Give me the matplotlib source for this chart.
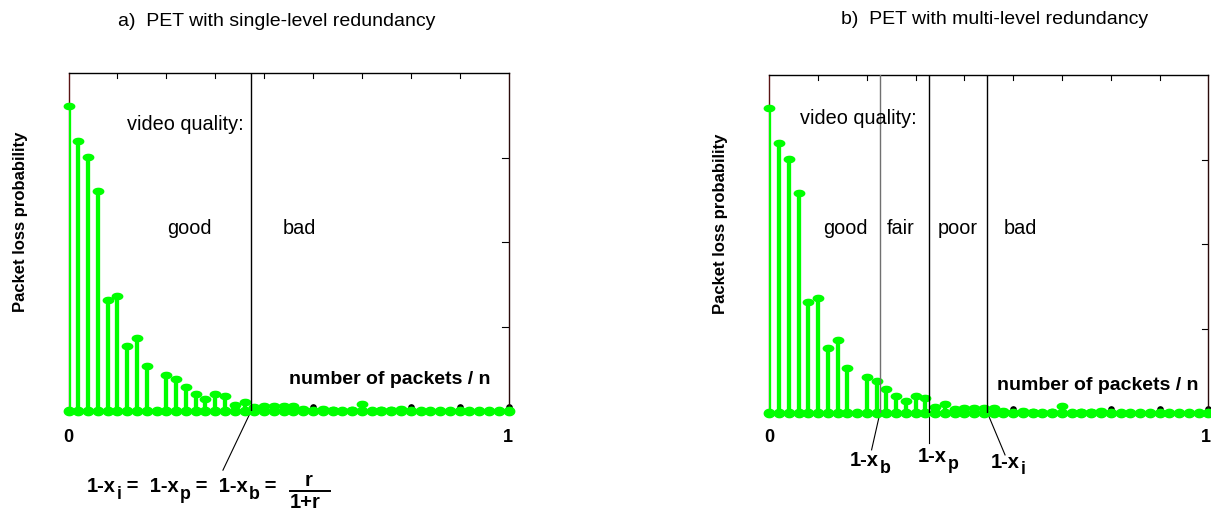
import numpy as np
import matplotlib
matplotlib.use('Agg')
import matplotlib.pyplot as plt
from matplotlib.path import Path
from matplotlib.lines import Line2D

plt.rcParams['font.family'] = ['Liberation Sans', 'DejaVu Sans']

# packet loss probability per number of lost packets (k / n, n = 45), axis top = 1
n_packets = 45
loss_prob = [0.901, 0.799, 0.752, 0.651, 0.327, 0.340, 0.191, 0.215, 0.132, 0.0,
             0.106, 0.094, 0.071, 0.050, 0.035, 0.050, 0.045, 0.017, 0.027, 0.012,
             0.014, 0.014, 0.014, 0.014, 0.005, 0.0, 0.006, 0.004, 0.0, 0.003,
             0.020, 0.0, 0.003, 0.003, 0.005, 0.0, 0.0, 0.0, 0.0, 0.0,
             0.0, 0.0, 0.0, 0.0, 0.0, 0.0]
# second (black) series only visible where the green one is zero
black_k = [25, 35, 40, 45]
black_vals = [0.012, 0.012, 0.012, 0.012]
# dark red series, first value runs off the top
red_k = [0]
red_vals = [1.2]

# quality thresholds (fraction of packets)
single_threshold = 0.415
multi_thresholds = [0.252, 0.364, 0.497]
multi_labels = ['good', 'fair', 'poor', 'bad']
multi_subs = ['b', 'p', 'i']

W, H = 1211, 514
fig = plt.figure(figsize=(W / 100, H / 100), dpi=100)


def px(x, y):
    return x / W, 1 - y / H


t = np.linspace(0, 2 * np.pi, 40)
top_marker = Path(np.column_stack([np.cos(t), 0.6 * np.sin(t)]), closed=True)
base_marker = Path(np.column_stack([np.cos(t), 0.8 * np.sin(t)]), closed=True)
GREEN = '#00ff00'
DARKRED = '#5a1414'


def draw_panel(ax):
    x = np.arange(len(loss_prob)) / n_packets
    y = np.array(loss_prob)
    ax.set_xlim(0, 1)
    ax.set_ylim(0, 1)
    # red series behind everything
    rx = np.array(red_k) / n_packets
    ax.vlines(rx, 0, red_vals, color=DARKRED, lw=1.4, zorder=1)
    ax.plot(x, np.zeros_like(x), color=DARKRED, lw=1.0, zorder=1, clip_on=False)
    # black series
    bx = np.array(black_k) / n_packets
    ax.vlines(bx, 0, black_vals, color='black', lw=1.2, zorder=2)
    ax.plot(bx, black_vals, ls='none', marker='o', ms=3.8, color='black',
            zorder=2, clip_on=False)
    # green stems
    mask = y > 0
    ax.vlines(x[mask], 0, y[mask], color=GREEN, lw=3.1, zorder=3)
    ax.plot(x[mask], y[mask], ls='none', marker=top_marker, ms=7.5, color=GREEN,
            zorder=4, clip_on=False)
    ax.plot(x, np.zeros_like(x), ls='none', marker=base_marker, ms=7.5,
            color=GREEN, zorder=4, clip_on=False)

    for side in ['left', 'bottom']:
        ax.spines[side].set_color(DARKRED)
        ax.spines[side].set_zorder(0)
    ax.spines['right'].set_color('#2a0a0a')
    ax.spines['top'].set_color('black')
    for s in ax.spines.values():
        s.set_linewidth(1.0)
    ax.set_xticks([])
    ax.set_yticks([])
    ax.tick_params(which='both', length=0)
    # inward ticks along top and right
    for k in range(5, n_packets, 5):
        ax.plot([k / n_packets, k / n_packets], [1, 0.985], color='black',
                lw=0.8, zorder=1)
    for v in [0.25, 0.5, 0.75]:
        ax.plot([1, 0.985], [v, v], color='black', lw=0.8, zorder=1)


def label_chain(ax, x, y, pieces, fs=14.5, drop=5.0):
    """Write 'main', 'sub', 'main', ... pieces one after the other; the
    subscripts are nearly full size and dropped below the baseline."""
    first = fig.text(*px(x, y), pieces[0], ha='left', va='center',
                     fontsize=fs, fontweight='bold')
    prev, last_main = first, first
    for i, txt in enumerate(pieces[1:], start=1):
        if i % 2 == 1:   # subscript
            prev = ax.annotate(txt, xy=(1, 0), xycoords=(prev, last_main),
                               xytext=(0.3, -drop), textcoords='offset points',
                               ha='left', va='bottom', fontsize=fs * 0.88,
                               fontweight='bold', annotation_clip=False)
        else:
            prev = ax.annotate(txt, xy=(1, 0), xycoords=(prev, last_main),
                               ha='left', va='bottom', fontsize=fs,
                               fontweight='bold', annotation_clip=False)
            last_main = prev
    return first


# ---- panel a ----
axa = fig.add_axes([68.5 / W, 1 - 411 / H, 440 / W, 338 / H])
draw_panel(axa)
axa.axvline(single_threshold, color='black', lw=1.0, zorder=5)
axa.plot([single_threshold, 0.351], [0, -0.175], color='black', lw=0.8,
         clip_on=False)

# ---- panel b ----
axb = fig.add_axes([769.3 / W, 1 - 413 / H, 439 / W, 338 / H])
draw_panel(axb)
for i, thr in enumerate(multi_thresholds):
    axb.axvline(thr, color='#707070' if i == 0 else 'black', lw=1.0, zorder=5)
ends = [(0.233, -0.109), (0.364, -0.089), (0.537, -0.124)]
for thr, (ex, ey) in zip(multi_thresholds, ends):
    axb.plot([thr, ex], [0, ey], color='black', lw=0.8, clip_on=False)

# ---- texts ----
fs = 14.3
fig.text(*px(277, 21), 'a)  PET with single-level redundancy', ha='center',
         va='center', fontsize=14)
fig.text(*px(995, 19), 'b)  PET with multi-level redundancy', ha='center',
         va='center', fontsize=14)

fig.text(*px(185, 124), 'video quality:', ha='center', va='center', fontsize=fs)
fig.text(*px(858, 118), 'video quality:', ha='center', va='center', fontsize=fs)

fig.text(*px(189, 229), 'good', ha='center', va='center', fontsize=fs)
fig.text(*px(299, 229), 'bad', ha='center', va='center', fontsize=fs)
for lab, cx in zip(multi_labels, [845, 901, 958, 1020]):
    fig.text(*px(cx, 228), lab, ha='center', va='center', fontsize=fs)

fig.text(*px(390, 379), 'number of packets / n', ha='center', va='center',
         fontsize=14, fontweight='bold')
fig.text(*px(1098, 385), 'number of packets / n', ha='center', va='center',
         fontsize=14, fontweight='bold')

fig.text(*px(21, 222), 'Packet loss probability', rotation=90, ha='center',
         va='center', fontsize=12, fontweight='bold')
fig.text(*px(721, 224), 'Packet loss probability', rotation=90, ha='center',
         va='center', fontsize=12, fontweight='bold')

for xx in [68, 508, 769, 1206]:
    lab = '0' if xx in (68, 769) else '1'
    fig.text(*px(xx, 437), lab, ha='center', va='center', fontsize=13,
             fontweight='bold')

label_chain(axa, 87, 487,
            ['1-x', 'i', ' =  1-x', 'p', ' =  1-x', 'b', ' ='])
# r / (1+r) written as a stacked fraction
fig.text(*px(309, 480), 'r', ha='center', va='center', fontsize=14.5,
         fontweight='bold')
fig.text(*px(305, 503), '1+r', ha='center', va='center', fontsize=14.5,
         fontweight='bold')
x0, y0 = px(290, 490.5)
x1, _ = px(330, 490.5)
fig.add_artist(Line2D([x0, x1], [y0, y0], color='black', lw=1.4,
                      transform=fig.transFigure))

for sub, (lx, ly) in zip(multi_subs, [(850, 461), (918, 457), (991, 462)]):
    label_chain(axb, lx, ly, ['1-x', sub])

fig.savefig('out.png', dpi=100)
